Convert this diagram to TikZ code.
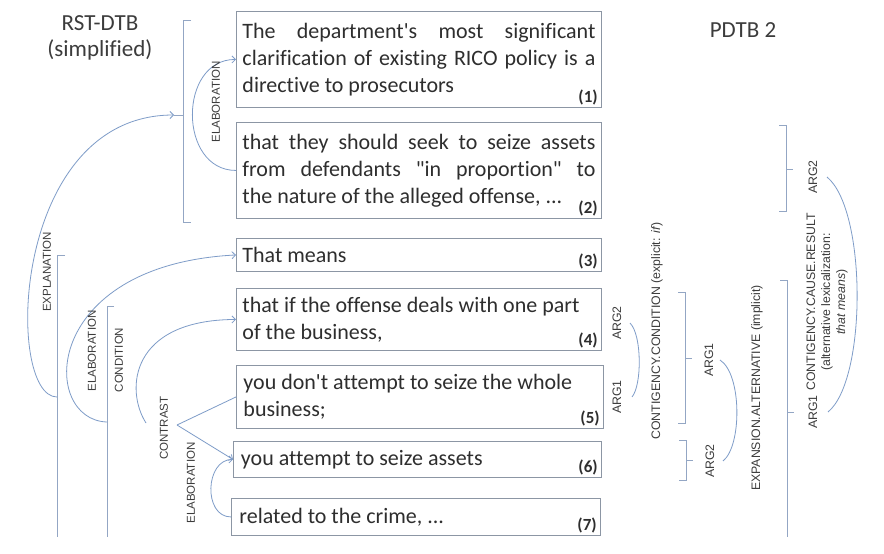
\documentclass[tikz,border=0pt]{standalone}
\usepackage{fontspec}
\setmainfont{Carlito}[Ligatures=NoCommon]
\newfontfamily\arialfont{Liberation Sans}
\usetikzlibrary{arrows.meta}

\definecolor{boxgray}{HTML}{8C96A4}
\definecolor{txtgray}{HTML}{2E2E2E}
\definecolor{relblue}{HTML}{7E9CC8}
\definecolor{brkblue}{HTML}{93A6C4}
\definecolor{lblgray}{HTML}{3C3C3C}

% one line of a segment: justified or ragged
\newcommand{\segjust}[1]{\hbox to 353pt{\spaceskip=0.226em plus 1fil minus 0.05em\relax #1}}
\newcommand{\segrag}[1]{\hbox to 353pt{#1\hfil}}

\tikzset{
  txtbox/.style={draw=boxgray, line width=0.9pt, anchor=north west, inner xsep=6pt, inner ysep=0pt,
    minimum width=365pt, align=left, text=txtgray, font=\fontsize{22}{27}\selectfont},
  num/.style={anchor=south east, inner sep=0pt, text=txtgray, font=\fontsize{17}{17}\selectfont\bfseries},
  header/.style={text=lblgray, align=center, font=\fontsize{23}{26}\selectfont},
  rstlbl/.style={rotate=90, inner sep=1pt, text=lblgray, font=\arialfont\fontsize{11.5}{11.5}\selectfont},
  pdtblbl/.style={rotate=90, inner sep=1pt, text=lblgray, font=\arialfont\fontsize{12.3}{15}\selectfont},
  rel/.style={draw=relblue, line width=0.8pt},
  relarr/.style={rel, -{Straight Barb[length=3.5pt,width=7pt]}},
  brk/.style={draw=brkblue, line width=0.8pt}
}

\begin{document}
\begin{tikzpicture}[x=1pt, y=-1pt]
    \fill[white] (0,0) rectangle (884,554);
    \useasboundingbox (0,0) rectangle (884,554);

    % Headings
    \node[header] (rst) at (100,38) {RST-DTB\\(simplified)};
    \node[header] (pdtb) at (743,30) {PDTB 2};

    % The seven text segments
    \node[txtbox, minimum height=96pt] (b1) at (236,11) {%
        \segjust{The department\textquotesingle s most significant}\\
        \segjust{clarification of existing RICO policy is a}\\
        \segrag{directive to prosecutors}};
    \node[txtbox, minimum height=96pt] (b2) at (236,122) {%
        \segjust{that they should seek to seize assets}\\
        \segjust{from defendants \textquotedbl in proportion\textquotedbl\ to}\\
        \segrag{the nature of the alleged offense, ...}};
    \node[txtbox, minimum height=33pt] (b3) at (236,238) {\segrag{That means}};
    \node[txtbox, minimum height=62pt] (b4) at (236,288) {%
        \segrag{that if the offense deals with one part}\\
        \segrag{of the business,}};
    \node[txtbox, minimum height=63pt, minimum width=367pt] (b5) at (236,365) {%
        \segrag{you don\textquotesingle t attempt to seize the whole}\\
        \segrag{business;}};
    \node[txtbox, minimum height=36pt, minimum width=368pt] (b6) at (233,441) {\segrag{you attempt to seize assets}};
    \node[txtbox, minimum height=37pt, minimum width=369pt] (b7) at (231,498) {\segrag{related to the crime, ...}};

    % segment numbers
    \foreach \i in {1,...,7}
        \node[num] (n\i) at ([xshift=-4pt,yshift=3pt]b\i.south east) {(\i)};

    % RST side: spans
    \draw[brk] (191,20) -- (183,20) -- (183,222) -- (191,222); % span 1-2
    \coordinate (r12) at (174,115);
    \draw[brk] (183,115) -- (r12);
    \draw[brk] (65,255) -- (57,255) -- (57,537); % span 3-7
    \coordinate (s37) at (57,397);
    \draw[brk] (114,306) -- (107,306) -- (107,537); % span 4-7
    \coordinate (s47) at (107,422);
    \coordinate (s56) at (177,425);
    \coordinate (c56) at (146,423);

    % RST side: relations
    \draw[relarr] (b2.west) .. controls +(-58,0) and +(-58,0) .. (b1.west);
    \node[rstlbl] (elab1) at (216,102) {ELABORATION};
    \draw[relarr] (s37) .. controls (5,397) and (10,115) .. (r12);
    \node[rstlbl] (expl) at (47,272) {EXPLANATION};
    \draw[relarr] (s47) .. controls (40,420) and (40,265) .. (b3.west);
    \node[rstlbl] (elab2) at (92,351) {ELABORATION};
    \draw[relarr] (c56) .. controls (125,390) and (130,320) .. (b4.west);
    \node[rstlbl] (cond) at (119,360) {CONDITION};
    \draw[rel] (s56) -- (b5.west);
    \draw[relarr] (s56) -- (b6.west);
    \node[rstlbl] (contr) at (164,428) {CONTRAST};
    \draw[relarr] (b7.west) .. controls +(-28,0) and +(-28,0) .. (b6.west);
    \node[rstlbl] (elab3) at (191,483) {ELABORATION};

    % PDTB side: arguments of the condition
    \node[pdtblbl] (a4) at (617,323) {ARG2};
    \node[pdtblbl] (a5) at (617,397) {ARG1};
    \draw[rel] ([xshift=13pt]a4.center) .. controls +(12,12) and +(10,-12) .. ([xshift=15pt]a5.center);
    \node[pdtblbl] (pcond) at (657,331) {CONTIGENCY.CONDITION (explicit: \textit{if})};

    % PDTB side: alternative
    \draw[brk] (678,292) -- (685,292) -- (685,423) -- (678,423);
    \draw[brk] (685,358) -- (692,358);
    \draw[brk] (679,440) -- (686,440) -- (686,480) -- (679,480);
    \draw[brk] (686,460) -- (693,460);
    \node[pdtblbl] (a45) at (709,360) {ARG1};
    \node[pdtblbl] (a6) at (710,461) {ARG2};
    \draw[rel] ([xshift=11pt]a45.center) .. controls +(22,14) and +(19,-15) .. ([xshift=13pt]a6.center);
    \node[pdtblbl] (palt) at (757,388) {EXPANSION.ALTERNATIVE (implicit)};

    % PDTB side: cause
    \draw[brk] (779,125) -- (786,125) -- (786,211) -- (779,211);
    \draw[brk] (786,169) -- (793,169);
    \draw[brk] (780,280) -- (787,280) -- (787,537);
    \draw[brk] (787,412) -- (794,412);
    \node[pdtblbl] (a12) at (813,177) {ARG2};
    \node[pdtblbl] (a37) at (813,412) {ARG1};
    \draw[rel] ([xshift=14pt]a12.center) .. controls +(40,33) and +(39,-32) .. ([xshift=15pt]a37.center);
    \node[pdtblbl, align=center] (pcause) at (827,302) {CONTIGENCY.CAUSE.RESULT\\(alternative lexicalization:\\\textit{that means})};

\end{tikzpicture}
\end{document}
